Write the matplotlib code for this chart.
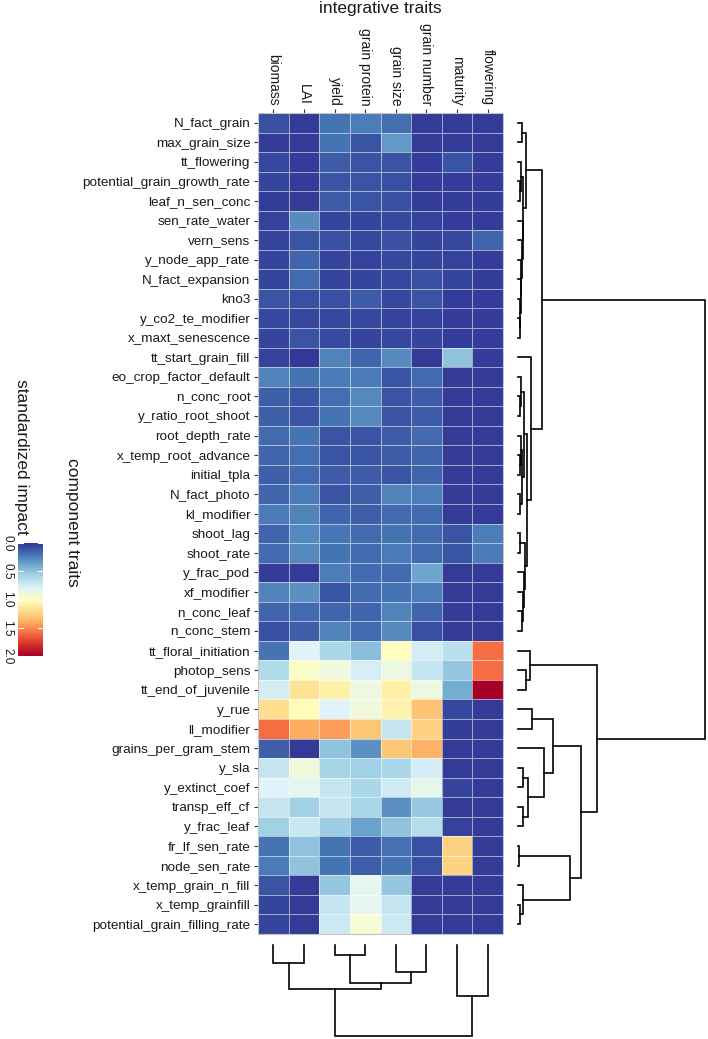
import numpy as np
import matplotlib
matplotlib.use("Agg")
import matplotlib.pyplot as plt

plt.rcParams['font.family'] = ['Liberation Sans', 'DejaVu Sans']

# ---------------- data ----------------
col_traits = ["biomass", "LAI", "yield", "grain protein", "grain size",
              "grain number", "maturity", "flowering"]

row_traits = ["N_fact_grain", "max_grain_size", "tt_flowering",
              "potential_grain_growth_rate", "leaf_n_sen_conc", "sen_rate_water",
              "vern_sens", "y_node_app_rate", "N_fact_expansion", "kno3",
              "y_co2_te_modifier", "x_maxt_senescence", "tt_start_grain_fill",
              "eo_crop_factor_default", "n_conc_root", "y_ratio_root_shoot",
              "root_depth_rate", "x_temp_root_advance", "initial_tpla",
              "N_fact_photo", "kl_modifier", "shoot_lag", "shoot_rate",
              "y_frac_pod", "xf_modifier", "n_conc_leaf", "n_conc_stem",
              "tt_floral_initiation", "photop_sens", "tt_end_of_juvenile",
              "y_rue", "ll_modifier", "grains_per_gram_stem", "y_sla",
              "y_extinct_coef", "transp_eff_cf", "y_frac_leaf", "fr_lf_sen_rate",
              "node_sen_rate", "x_temp_grain_n_fill", "x_temp_grainfill",
              "potential_grain_filling_rate"]

biomass = [0.08, 0.03, 0.06, 0.05, 0.03, 0.04, 0.05, 0.05, 0.05, 0.10, 0.06, 0.05,
           0.04, 0.25, 0.13, 0.13, 0.17, 0.15, 0.13, 0.15, 0.22, 0.15, 0.17, 0.03,
           0.25, 0.15, 0.08, 0.20, 0.62, 0.75, 1.20, 1.60, 0.13, 0.70, 0.80, 0.70,
           0.57, 0.20, 0.22, 0.10, 0.05, 0.05]
lai = [0.02, 0.02, 0.02, 0.02, 0.02, 0.28, 0.10, 0.15, 0.17, 0.08, 0.06, 0.10,
       0.01, 0.20, 0.10, 0.10, 0.20, 0.18, 0.17, 0.22, 0.25, 0.27, 0.27, 0.02,
       0.30, 0.17, 0.13, 0.80, 0.97, 1.18, 1.02, 1.40, 0.02, 0.90, 0.84, 0.57,
       0.71, 0.50, 0.50, 0.02, 0.02, 0.02]
yield_ = [0.20, 0.20, 0.12, 0.10, 0.12, 0.05, 0.08, 0.05, 0.05, 0.08, 0.06, 0.07,
          0.25, 0.22, 0.18, 0.20, 0.10, 0.10, 0.12, 0.10, 0.15, 0.21, 0.20, 0.23,
          0.10, 0.15, 0.25, 0.60, 0.90, 1.10, 0.80, 1.45, 0.50, 0.58, 0.70, 0.70,
          0.55, 0.20, 0.20, 0.52, 0.70, 0.72]
grain_protein = [0.23, 0.10, 0.10, 0.10, 0.10, 0.05, 0.06, 0.04, 0.05, 0.12, 0.06, 0.05,
                 0.15, 0.22, 0.27, 0.28, 0.10, 0.10, 0.12, 0.13, 0.13, 0.17, 0.17, 0.17,
                 0.17, 0.15, 0.17, 0.48, 0.76, 0.88, 0.90, 1.30, 0.30, 0.57, 0.60, 0.59,
                 0.36, 0.12, 0.13, 0.84, 0.83, 0.93]
grain_size = [0.18, 0.33, 0.10, 0.08, 0.08, 0.06, 0.08, 0.06, 0.06, 0.06, 0.04, 0.06,
              0.28, 0.10, 0.10, 0.10, 0.12, 0.12, 0.10, 0.25, 0.17, 0.20, 0.22, 0.17,
              0.20, 0.25, 0.28, 1.00, 0.88, 1.10, 1.08, 0.70, 1.30, 0.60, 0.74, 0.30,
              0.50, 0.19, 0.20, 0.52, 0.70, 0.72]
grain_number = [0.02, 0.02, 0.03, 0.03, 0.03, 0.04, 0.05, 0.05, 0.08, 0.10, 0.04, 0.05,
                0.02, 0.17, 0.12, 0.12, 0.17, 0.15, 0.15, 0.23, 0.17, 0.17, 0.17, 0.38,
                0.23, 0.15, 0.08, 0.75, 0.70, 0.88, 1.32, 1.25, 1.38, 0.75, 0.85, 0.53,
                0.64, 0.08, 0.08, 0.02, 0.02, 0.02]
maturity = [0.02, 0.02, 0.10, 0.03, 0.03, 0.03, 0.06, 0.04, 0.05, 0.03, 0.03, 0.03,
            0.50, 0.02, 0.02, 0.02, 0.02, 0.02, 0.02, 0.02, 0.02, 0.10, 0.10, 0.02,
            0.02, 0.02, 0.02, 0.65, 0.52, 0.40, 0.06, 0.03, 0.02, 0.02, 0.05, 0.02,
            0.04, 1.25, 1.25, 0.02, 0.02, 0.02]
flowering = [0.02, 0.02, 0.03, 0.03, 0.03, 0.03, 0.15, 0.03, 0.03, 0.03, 0.03, 0.03,
             0.03, 0.02, 0.02, 0.02, 0.02, 0.02, 0.02, 0.02, 0.02, 0.23, 0.22, 0.02,
             0.02, 0.02, 0.02, 1.60, 1.60, 2.00, 0.02, 0.02, 0.02, 0.02, 0.02, 0.02,
             0.02, 0.02, 0.02, 0.02, 0.02, 0.02]

# dendrograms: (left, right, merge height); leaves are row / column indices
col_tree = (((0, 1, 17.7), ((2, 3, 10.0), (4, 5, 26.7), 38.3), 44.0), (6, 7, 51.0), 91.0)

row_upper = (((0, 1, 3.7),
              ((2, (3, 4, 2.0), 3.0),
               (5, (6, (7, (8, (9, (10, 11, 1.5), 2.0), 2.5), 3.0), 3.5), 4.5), 5.3), 8.0),
             (12, (((13, (14, 15, 2.0), 3.0), ((16, (17, 18, 1.5), 2.5), (19, 20, 2.0), 4.0), 6.0),
                   ((21, 22, 2.0), (23, (24, (25, 26, 3.5), 4.5), 6.0), 7.0), 9.0), 13.0), 24.0)
row_lower = ((27, (28, 29, 8.0), 12.0),
             ((((30, 31, 14.0), (32, ((33, 34, 5.0), (35, 36, 5.0), 10.0), 26.0), 35.0)),
              ((37, 38, 1.0), (39, (40, 41, 2.0), 5.0), 52.0), 63.0), 79.0)
row_tree = (row_upper, row_lower, 187.0)

cbar_ticks = [0.0, 0.5, 1.0, 1.5, 2.0]

# ---------------- figure ----------------
W, H = 708, 1039
fig = plt.figure(figsize=(W / 100, H / 100), dpi=100)


def px_axes(x0, y0, x1, y1):
    return fig.add_axes([x0 / W, 1 - y1 / H, (x1 - x0) / W, (y1 - y0) / H])


M = np.column_stack([biomass, lai, yield_, grain_protein, grain_size,
                     grain_number, maturity, flowering])
nr, nc = M.shape
cmap = plt.get_cmap('RdYlBu_r')

ax = px_axes(258, 113, 503, 934)
ax.pcolormesh(np.arange(nc + 1), np.arange(nr + 1), M, cmap=cmap, vmin=0, vmax=2,
              edgecolors=(1, 1, 1, 0.55), linewidth=0.6)
ax.set_xlim(0, nc)
ax.set_ylim(nr, 0)
ax.set_yticks(np.arange(nr) + 0.5)
ax.set_yticklabels(row_traits, fontsize=9.7, color='#1a1a1a')
ax.xaxis.tick_top()
ax.set_xticks(np.arange(nc) + 0.5)
ax.set_xticklabels(col_traits, fontsize=10, color='#1a1a1a', rotation=270,
                   ha='center', va='bottom')
ax.tick_params(axis='both', length=3, width=0.8, color='#333333', pad=2.5)
for s in ax.spines.values():
    s.set_color('#c4c4c4')
    s.set_linewidth(0.8)

fig.text(380 / W, 1 - 9 / H, "integrative traits", fontsize=12.5,
         ha='center', va='center', color='#1a1a1a')


def dendro_segments(node, leaf_pos, segs):
    if isinstance(node, int):
        return leaf_pos(node), 0.0
    l, r, h = node
    pl, hl = dendro_segments(l, leaf_pos, segs)
    pr, hr = dendro_segments(r, leaf_pos, segs)
    segs.append(([pl, pl, pr, pr], [hl, h, h, hr]))
    return (pl + pr) / 2, h


# right (row) dendrogram
axr = px_axes(518, 113, 705, 934)
segs = []
dendro_segments(row_tree, lambda i: i + 0.5, segs)
for p, h in segs:
    axr.plot(h, p, color='black', lw=1.2, clip_on=False, solid_joinstyle='miter')
axr.set_xlim(0, row_tree[2])
axr.set_ylim(nr, 0)
axr.axis('off')

# bottom (column) dendrogram
axb = px_axes(258, 945, 503, 1036)
segs = []
dendro_segments(col_tree, lambda j: j + 0.5, segs)
for p, h in segs:
    axb.plot(p, h, color='black', lw=1.2, clip_on=False, solid_joinstyle='miter')
axb.set_xlim(0, nc)
axb.set_ylim(col_tree[2], 0)
axb.axis('off')

# colour bar (rotated legend)
axc = px_axes(18, 543, 43, 656)
grad = np.linspace(0, 2, 300).reshape(-1, 1)
axc.imshow(grad, cmap=cmap, vmin=0, vmax=2, aspect='auto',
           extent=[0, 1, 2, 0], interpolation='bilinear')
axc.set_xlim(0, 1)
axc.set_ylim(2, 0)
for t in cbar_ticks:
    axc.plot([0, 0.2], [t, t], color='white', lw=0.8)
    axc.plot([0.8, 1], [t, t], color='white', lw=0.8)
    y = axc.transData.transform((0, t))[1]
    fig.text(7 / W, y / (H), f"{t:.1f}", rotation=270, fontsize=8.5,
             ha='center', va='center', color='#1a1a1a')
axc.axis('off')

fig.text(21 / W, 1 - 535 / H, "standardized impact", rotation=270, fontsize=12.5,
         ha='center', va='bottom', color='#1a1a1a')
fig.text(72 / W, 1 - 522 / H, "component traits", rotation=270, fontsize=12.5,
         ha='center', va='center', color='#1a1a1a')

fig.savefig("out.png", dpi=100)
